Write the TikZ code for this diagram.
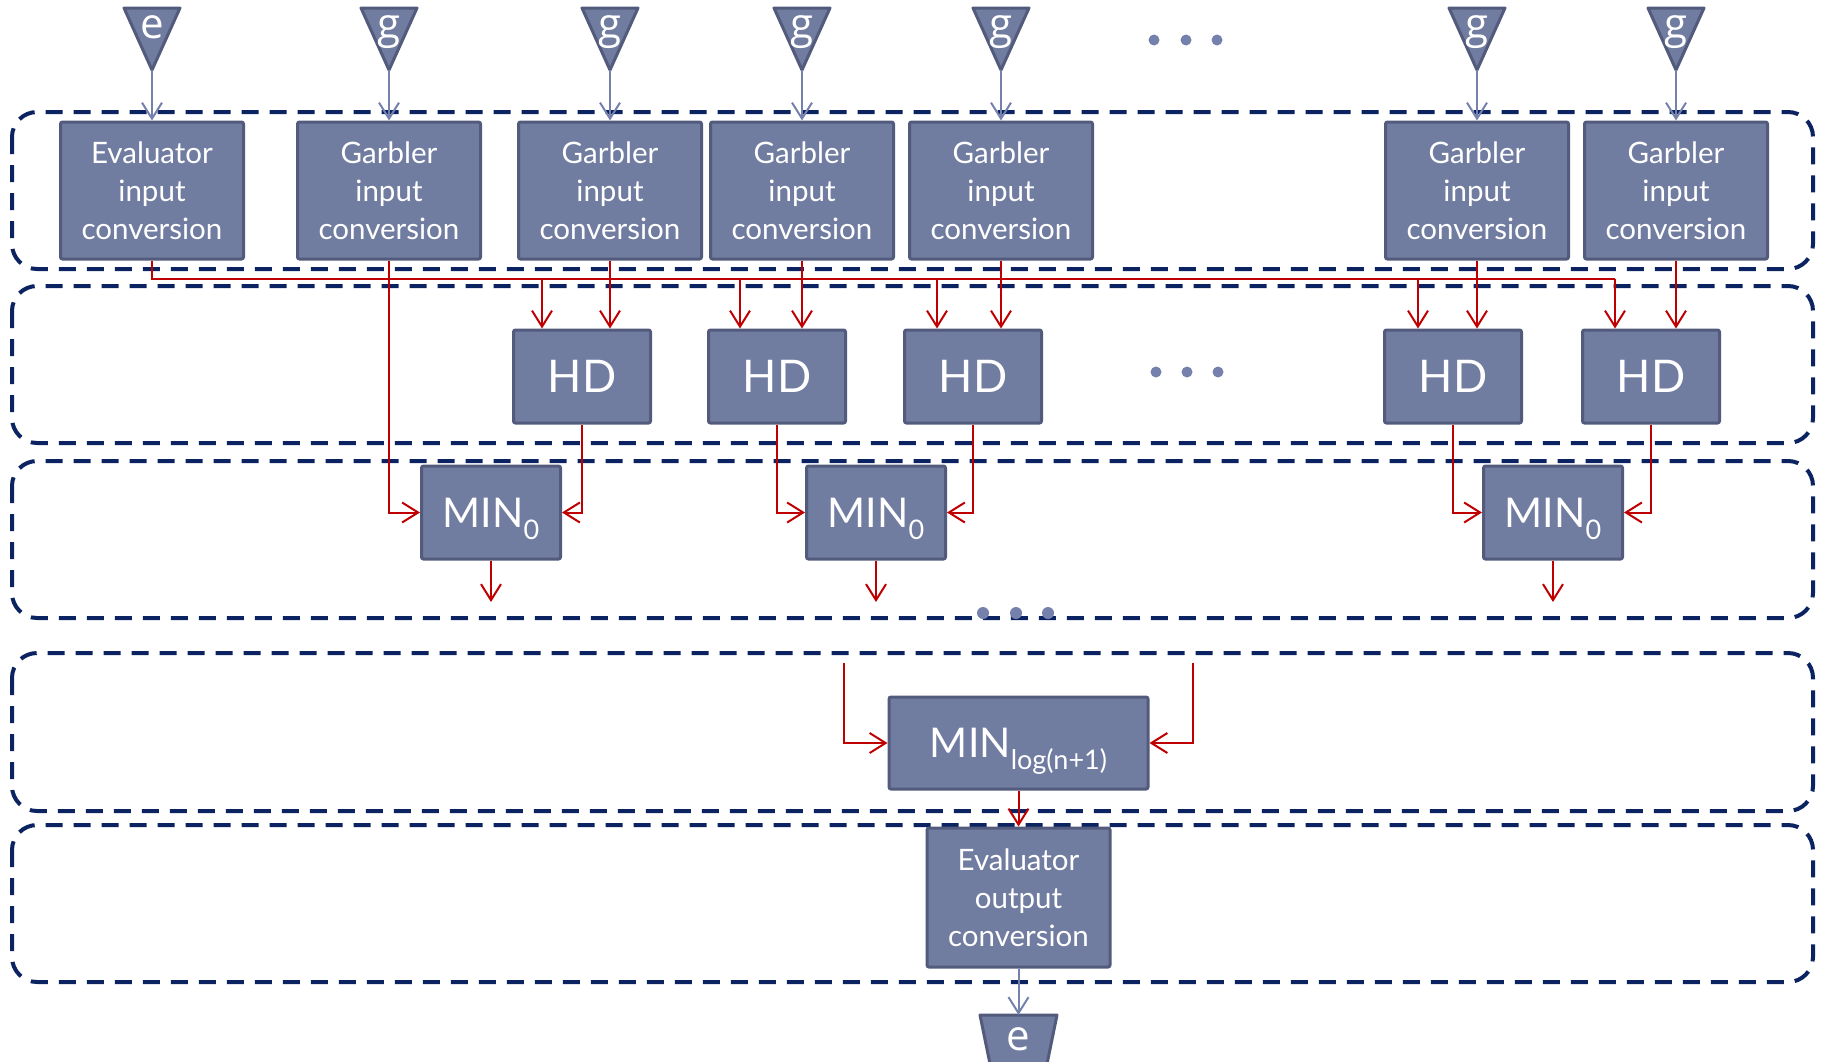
\documentclass[tikz,border=0pt]{standalone}
\usepackage{fontspec}
\setmainfont{Lato}
\newfontfamily\pinfont{Open Sans}
\usetikzlibrary{arrows.meta,calc}
\definecolor{boxfill}{HTML}{717CA1}
\definecolor{boxline}{HTML}{525B7C}
\definecolor{navy}{HTML}{0B2361}
\definecolor{redc}{HTML}{C00000}
\definecolor{slate}{HTML}{7581AC}
\newcommand{\mkpin}[3]{%
  \draw[pin] (#2-28,8) -- (#2+28,8) -- (#2,70) -- cycle;
  \node[pinlbl] (#1) at (#2,38) {#3};
  \coordinate (#1t) at (#2,70);}
\newcommand{\lowsub}[1]{\raisebox{-12pt}[0pt][0pt]{\fontsize{27}{27}\selectfont #1}}
\begin{document}
\begin{tikzpicture}[x=1pt,y=-1pt,
 stage/.style={draw=navy, line width=4pt, dash pattern=on 17pt off 11pt, rounded corners=25pt},
 blk/.style={draw=boxline, fill=boxfill, line width=3pt, rounded corners=2pt, text=white, align=center, inner sep=0pt},
 conv/.style={blk, minimum width=183pt, minimum height=137pt, font=\fontsize{29.5}{38}\selectfont},
 hd/.style={blk, minimum width=137pt, minimum height=93pt, font=\fontsize{45}{45}\selectfont},
 mn/.style={blk, minimum width=139pt, minimum height=93pt, font=\fontsize{41}{41}\selectfont},
 pin/.style={draw=boxline, fill=boxfill, line width=3pt, line join=round},
 pinlbl/.style={text=white, font=\pinfont\fontsize{42}{42}\selectfont, anchor=base, inner sep=0pt},
 inarr/.style={draw=slate, line width=2pt, -{Straight Barb[length=16pt,width=20pt,line width=2pt]}},
 redarr/.style={draw=redc, line width=2pt, -{Straight Barb[length=16pt,width=20pt,line width=2pt]}},
 redline/.style={draw=redc, line width=2pt},
 dotc/.style={fill=slate}
]
\useasboundingbox (0,0) rectangle (1821,1061);

% stages
\draw[stage] (12,112) rectangle (1813,269);
\draw[stage] (12,286) rectangle (1813,443);
\draw[stage] (12,461) rectangle (1813,618);
\draw[stage] (12,653) rectangle (1813,811);
\draw[stage] (12,825) rectangle (1813,982);

% input pins
\mkpin{pe}{152}{e}
\mkpin{pg1}{389}{g}
\mkpin{pg2}{610}{g}
\mkpin{pg3}{802}{g}
\mkpin{pg4}{1001}{g}
\mkpin{pg5}{1477}{g}
\mkpin{pg6}{1676}{g}

% dots
\foreach \x in {1154,1186,1217} \fill[dotc] (\x,40) circle (5.5);
\foreach \x in {1156,1187,1218} \fill[dotc] (\x,372) circle (5.5);
\foreach \x in {983,1016,1048} \fill[dotc] (\x,613) circle (6);

% input conversion boxes
\node[conv] (Ev) at (152,190.5) {Evaluator\\input\\conversion};
\node[conv] (G1) at (389,190.5) {Garbler\\input\\conversion};
\node[conv] (G2) at (610,190.5) {Garbler\\input\\conversion};
\node[conv] (G3) at (802,190.5) {Garbler\\input\\conversion};
\node[conv] (G4) at (1001,190.5) {Garbler\\input\\conversion};
\node[conv] (G5) at (1477,190.5) {Garbler\\input\\conversion};
\node[conv] (G6) at (1676,190.5) {Garbler\\input\\conversion};

% HD boxes
\node[hd] (H1) at (582,376.5) {HD};
\node[hd] (H2) at (777,376.5) {HD};
\node[hd] (H3) at (973,376.5) {HD};
\node[hd] (H4) at (1453,376.5) {HD};
\node[hd] (H5) at (1651,376.5) {HD};

% MIN boxes
\node[mn] (M1) at (491,512.5) {MIN\lowsub{0}};
\node[mn] (M2) at (876,512.5) {MIN\lowsub{0}};
\node[mn] (M3) at (1553,512.5) {MIN\lowsub{0}};
\node[mn, minimum width=259pt, minimum height=92pt] (ML) at (1018.5,743) {MIN\lowsub{log(n+1)}};

% output conversion
\node[conv, minimum height=139pt] (EO) at (1018.5,897.5) {Evaluator\\output\\conversion};

% output pin
\draw[pin] (980,1015) -- (1057,1015) -- (1047,1064) -- (990,1064) -- cycle;
\node[pinlbl] (pout) at (1018.5,1050) {e};
\coordinate (pot) at (1018.5,1015);

% pin arrows
\draw[inarr] (pet) -- (Ev.north);
\draw[inarr] (pg1t) -- (G1.north);
\draw[inarr] (pg2t) -- (G2.north);
\draw[inarr] (pg3t) -- (G3.north);
\draw[inarr] (pg4t) -- (G4.north);
\draw[inarr] (pg5t) -- (G5.north);
\draw[inarr] (pg6t) -- (G6.north);
\draw[inarr] (EO.south) -- (pot);

% evaluator bus
\coordinate (busend) at (1615,279);
\draw[redline] (Ev.south) |- (busend);
\foreach \x/\h in {542/H1,740/H2,937/H3,1418/H4,1615/H5}{
  \coordinate (d\h) at (\x,279);
  \draw[redarr] (d\h) -- (d\h |- \h.north);
}

% garbler to HD
\draw[redarr] (G2.south) -- (G2.south |- H1.north);
\draw[redarr] (G3.south) -- (G3.south |- H2.north);
\draw[redarr] (G4.south) -- (G4.south |- H3.north);
\draw[redarr] (G5.south) -- (G5.south |- H4.north);
\draw[redarr] (G6.south) -- (G6.south |- H5.north);

% to MIN0
\draw[redarr] (G1.south) |- (M1.west);
\draw[redarr] (H1.south) |- (M1.east);
\draw[redarr] (H2.south) |- (M2.west);
\draw[redarr] (H3.south) |- (M2.east);
\draw[redarr] (H4.south) |- (M3.west);
\draw[redarr] (H5.south) |- (M3.east);

% MIN0 outputs
\coordinate (o1) at (491,602);
\coordinate (o2) at (876,602);
\coordinate (o3) at (1553,602);
\draw[redarr] (M1.south) -- (o1);
\draw[redarr] (M2.south) -- (o2);
\draw[redarr] (M3.south) -- (o3);

% MIN log inputs
\coordinate (li) at (844,663);
\coordinate (ri) at (1193,663);
\draw[redarr] (li) |- (ML.west);
\draw[redarr] (ri) |- (ML.east);
\draw[redarr] (ML.south) -- (EO.north);

\end{tikzpicture}
\end{document}
